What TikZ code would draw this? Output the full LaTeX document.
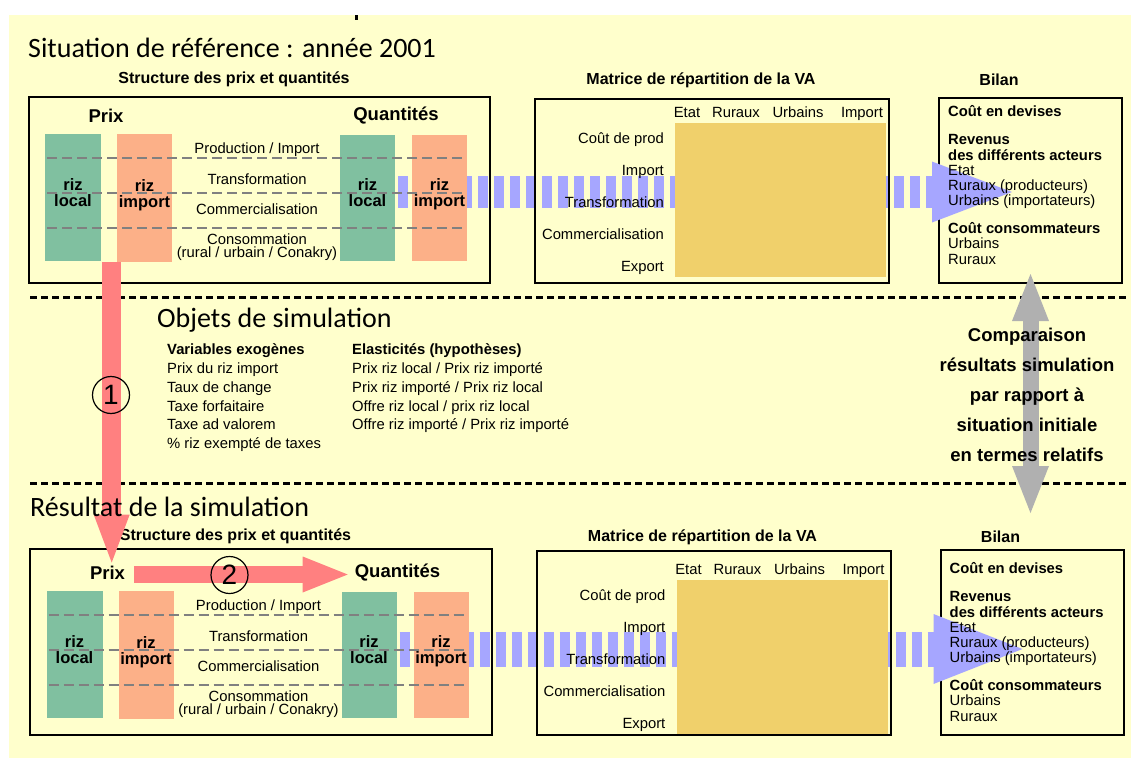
\documentclass[tikz,border=0pt]{standalone}
\usepackage{fontspec}
\setmainfont{Liberation Sans}
\newfontfamily\ttlfont{Carlito}
\usetikzlibrary{arrows.meta}
\definecolor{bgy}{RGB}{255,255,204}
\definecolor{colg}{RGB}{128,192,160}
\definecolor{colo}{RGB}{252,176,136}
\definecolor{matf}{RGB}{240,208,107}
\definecolor{bluea}{RGB}{166,166,255}
\definecolor{reda}{RGB}{255,128,128}
\definecolor{graya}{RGB}{176,176,176}
\definecolor{dgray}{RGB}{128,128,128}
\tikzset{
 txt/.style={font=\fontsize{14.8bp}{15bp}\selectfont, inner sep=0pt, anchor=base},
 btxt/.style={font=\fontsize{14.8bp}{15bp}\selectfont\bfseries, inner sep=0pt, anchor=base},
 hdr/.style={font=\fontsize{16bp}{16bp}\selectfont\bfseries, inner sep=0pt},
 big/.style={font=\fontsize{18.5bp}{18.5bp}\selectfont\bfseries, inner sep=0pt},
 riz/.style={font=\fontsize{16.5bp}{16bp}\selectfont\bfseries, inner sep=0pt, align=center},
 ttl/.style={font=\fontsize{28bp}{28bp}\selectfont\ttlfont, inner sep=0pt, anchor=base west},
 frame/.style={draw=black, line width=2bp, inner sep=0pt},
 colG/.style={fill=colg, draw=none, inner sep=0pt},
 colO/.style={fill=colo, draw=none, inner sep=0pt},
 matbox/.style={fill=matf, draw=none, inner sep=0pt},
 level/.style={draw=dgray, line width=2.5bp, dash pattern=on 10bp off 5bp},
 sep/.style={draw=black, line width=3bp, dash pattern=on 7bp off 4bp},
 band/.style={draw=bluea, dash pattern=on 10bp off 6bp},
 redarrA/.style={draw=reda, line width=19bp, -{Triangle[width=36bp,length=48bp,line width=0pt]}},
 redarrB/.style={draw=reda, line width=17bp, -{Triangle[width=36bp,length=45bp,line width=0pt]}},
 grayarr/.style={draw=graya, line width=16bp, {Triangle[width=37bp,length=47bp,line width=0pt]}-{Triangle[width=37bp,length=47bp,line width=0pt]}},
 num/.style={draw=black, circle, line width=1.2bp, minimum size=37bp, inner sep=0pt, font=\fontsize{28bp}{28bp}\selectfont}
}
\begin{document}
\begin{tikzpicture}[x=1bp,y=-1bp]
\useasboundingbox (0,0) rectangle (1131,758);
\fill[white] (0,0) rectangle (1131,758);
\fill[bgy] (9,15) rectangle (1131,758);
\fill[black] (355,15) rectangle (358,20);
\draw[sep] (30,297) -- (1128,297);
\draw[sep] (30,483) -- (1128,483);

% panel shapes
\foreach \p/\dx/\dy/\bdy/\bw/\hh/\tip in {t/0/0/0/32/30.5/1012, b/1.5/457/-5/35/35/1021}{
 \begin{scope}[shift={(\dx,\dy)}]
  \coordinate (\p-bs) at (398,192);
  \coordinate (\p-be) at (932,192);
  \coordinate (\p-tip) at (\tip,192);
  \draw[band, line width=\bw bp] (\p-bs) -- (\p-be);
  \node[frame, minimum width=461bp, minimum height=186bp] (\p-sbox) at (259.5,{190+(\bdy)}) {};
  \node[frame, minimum width=354bp, minimum height=184bp] (\p-mbox) at (712,{191+(\bdy)}) {};
  \node[frame, minimum width=183bp, minimum height=185bp] (\p-bbox) at (1030.5,{190.5+(\bdy)}) {};
  \node[colG, minimum width=56bp, minimum height=127bp] (\p-g1) at (73,197.5) {};
  \node[colO, minimum width=55bp, minimum height=128bp] (\p-o1) at (144.5,198) {};
  \node[colG, minimum width=55bp, minimum height=126bp] (\p-g2) at (367.5,198) {};
  \node[colO, minimum width=55bp, minimum height=126bp] (\p-o2) at (439.5,198) {};
  \node[matbox, minimum width=211bp, minimum height=154bp] (\p-mf) at (780.5,200) {};
  \draw[level] (47,158) -- (462,158);
  \draw[level] (47,193) -- (462,193);
  \draw[level] (47,228) -- (462,228);
  \fill[bluea] ([yshift=\hh bp]\p-be) -- (\p-tip) -- ([yshift=-\hh bp]\p-be) -- cycle;
 \end{scope}
}

% panel texts
\foreach \p/\dx/\dy in {t/0/0, b/1.5/457}{
 \begin{scope}[shift={(\dx,\dy)}]
  \node[hdr] (\p-st) at (234,79) {Structure des prix et quantités};
  \node[big] (\p-prix) at (106,116) {Prix};
  \node[big] (\p-quant) at (396,116) {Quantités};
  \node[riz] (\p-r1) at (73,193) {riz\\local};
  \node[riz] (\p-r2) at (144.5,195) {riz\\import};
  \node[riz] (\p-r3) at (367.5,193) {riz\\local};
  \node[riz] (\p-r4) at (439.5,194) {riz\\import};
  \foreach \t/\y/\n in {{Production / Import}/153.5/a, Transformation/184.5/b, Commercialisation/214.5/c, Consommation/244/d, {(rural / urbain / Conakry)}/257.5/e}
   \node[txt] (\p-l\n) at (257,\y) {\t};
  \node[hdr] (\p-mt) at (701,80) {Matrice de répartition de la VA};
  \foreach \t/\x/\n in {Etat/687/a, Ruraux/736/b, Urbains/798/c, Import/862/d}
   \node[txt] (\p-h\n) at (\x,117.5) {\t};
  \foreach \t/\y/\n in {Coût de prod/138/a, Import/170/b, Transformation/202/c, Commercialisation/234/d, Export/266/e}
   \node[txt, anchor=base east] (\p-m\n) at (664,{\y+5.5}) {\t};
  \node[hdr] (\p-bil) at (999,80) {Bilan};
  \foreach \t/\y/\s/\n in {Coût en devises/111/btxt/a, Revenus/139/btxt/b, des différents acteurs/155/btxt/c, Etat/170/txt/d, {Ruraux (producteurs)}/185/txt/e, {Urbains (importateurs)}/200/txt/f, Coût consommateurs/228/btxt/g, Urbains/243/txt/h, Ruraux/259/txt/i}
   \node[\s, anchor=base west] (\p-b\n) at (948,{\y+5.5}) {\t};
 \end{scope}
}

% arrows
\coordinate (r1s) at ([xshift=10.5bp,yshift=-1bp]t-g1.south east);
\draw[redarrA, shorten >=3.5bp] (r1s) -- (r1s |- b-prix.north);
\draw[redarrB, shorten <=9bp, shorten >=7bp] ([yshift=-1.5bp]b-prix.east) -- ([yshift=-1.5bp]b-quant.west);
\coordinate (gs) at ([yshift=10bp]t-bbox.south);
\draw[grayarr, shorten >=36bp] (gs) -- (gs |- b-bbox.north);

% titles
\node[ttl] (ttl1) at (28,58) {Situation de référence : année 2001};
\node[ttl] (ttl2) at (157,327) {Objets de simulation};
\node[ttl] (ttl3) at (30,516) {Résultat de la simulation};

\node[btxt, anchor=base west] (v0) at (167,354.5) {Variables exogènes};
\foreach \t/\y/\n in {Prix du riz import/368/1, Taux de change/387/2, Taxe forfaitaire/406/3, Taxe ad valorem/424/4, {\% riz exempté de taxes}/443/5}
 \node[txt, anchor=base west] (v\n) at (167,{\y+5.5}) {\t};
\node[btxt, anchor=base west] (e0) at (352,354.5) {Elasticités (hypothèses)};
\foreach \t/\y/\n in {{Prix riz local / Prix riz importé}/368/1, {Prix riz importé / Prix riz local}/387/2, {Offre riz local / prix riz local}/406/3, {Offre riz importé / Prix riz importé}/424/4}
 \node[txt, anchor=base west] (e\n) at (352,{\y+5.5}) {\t};

\node[big, align=center, font=\fontsize{18.5bp}{30bp}\selectfont\bfseries] (cmp) at (1027,395) {Comparaison\\résultats simulation\\par rapport à\\situation initiale\\en termes relatifs};

\node[num] (c1) at (111,395) {1};
\node[num] (c2) at (229.5,575) {2};
\end{tikzpicture}
\end{document}
